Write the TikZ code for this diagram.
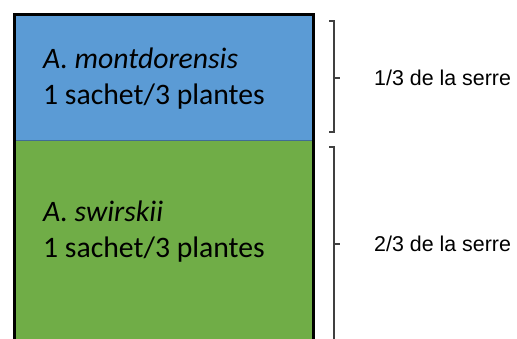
\documentclass[tikz,border=0pt]{standalone}
\usepackage{fontspec}
\setmainfont{Carlito}
\newfontfamily\arialfont{Liberation Sans}
\usetikzlibrary{positioning}
\definecolor{zoneblue}{HTML}{5B9BD5}
\definecolor{zonegreen}{HTML}{70AD47}
\definecolor{bracegray}{HTML}{404040}
\begin{document}
\begin{tikzpicture}[x=1pt,y=-1pt,
    zone text/.style={anchor=base west,inner sep=0pt,font=\fontsize{29.7}{36}\selectfont},
    brace line/.style={draw=bracegray,line width=1.1pt},
    share text/.style={anchor=west,inner sep=0pt,font=\arialfont\fontsize{21.4}{24}\selectfont}]
    \useasboundingbox (0,0) rectangle (517,338);

    % greenhouse zones
    \fill[zoneblue] (14.5,14) rectangle (313,140);
    \fill[zonegreen] (14.5,140) rectangle (313,345);
    \draw[zoneblue!70!black,line width=0.8pt] (14.5,140) -- (313,140);
    \draw[line width=3pt] (14.5,345) -- (14.5,14) -- (313,14) -- (313,345);

    \node[zone text,font=\fontsize{29.7}{36}\selectfont\itshape] at (43,68) (montname) {A. montdorensis};
    \node[zone text] at (43,104) (montrate) {1 sachet/3 plantes};
    \node[zone text,font=\fontsize{29.7}{36}\selectfont\itshape] at (43,221) (swirname) {A. swirskii};
    \node[zone text] at (43,257) (swirrate) {1 sachet/3 plantes};

    % shares of the greenhouse
    \coordinate (b1) at (340,78);
    \coordinate (b2) at (340,244);
    \draw[brace line] (329,21) -- (334,21) -- (334,132) -- (329,132);
    \draw[brace line] (334,78) -- (b1);
    \draw[brace line] (329,147) -- (334,147) -- (334,345);
    \draw[brace line] (334,244) -- (b2);

    \node[share text,right=34pt of b1] (third) {1/3 de la serre};
    \node[share text,right=34pt of b2] (twothirds) {2/3 de la serre};
\end{tikzpicture}
\end{document}
